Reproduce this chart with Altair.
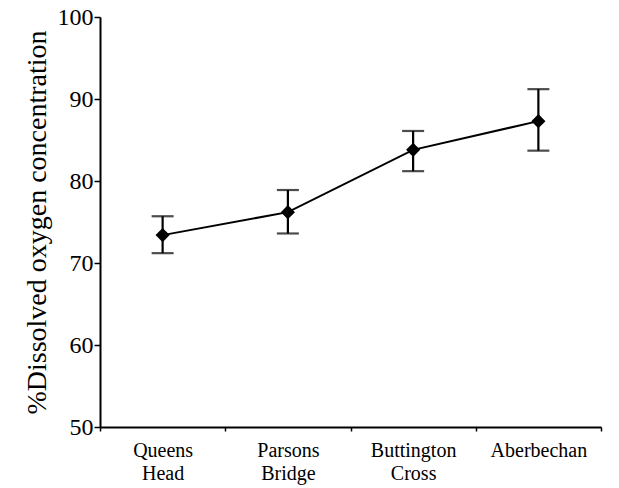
import altair as alt
import pandas as pd

sites = ["Queens Head", "Parsons Bridge", "Buttington Cross", "Aberbechan"]
means = [73.4, 76.2, 83.8, 87.3]
lows = [71.2, 73.6, 81.2, 83.7]
highs = [75.7, 78.9, 86.1, 91.2]

df = pd.DataFrame({"site": sites, "mean": means, "lo": lows, "hi": highs})

FONT = "Liberation Serif"

x = alt.X(
    "site:N",
    sort=sites,
    scale=alt.Scale(paddingInner=0, paddingOuter=0),
    axis=alt.Axis(
        title=None,
        labelAngle=0,
        labelFont=FONT,
        labelFontSize=20,
        labelColor="black",
        labelExpr="split(datum.label, ' ')",
        labelLineHeight=23,
        labelPadding=9,
        labelBaseline="top",
        tickBand="extent",
        tickSize=4,
        tickColor="black",
        tickWidth=1.5,
        domainColor="black",
        domainWidth=2,
    ),
)

y_axis = alt.Axis(
    title="%Dissolved oxygen concentration",
    titleFont=FONT,
    titleFontSize=28,
    titleFontWeight="normal",
    titleColor="black",
    titlePadding=6,
    values=[50, 60, 70, 80, 90, 100],
    labelFont=FONT,
    labelFontSize=24,
    labelColor="black",
    labelPadding=1,
    tickSize=6,
    tickColor="black",
    tickWidth=1.5,
    domainColor="black",
    domainWidth=2,
    grid=False,
)

base = alt.Chart(df)

line = base.mark_line(color="black", strokeWidth=2).encode(
    x=x,
    y=alt.Y("mean:Q", scale=alt.Scale(domain=[50, 100], nice=False, zero=False), axis=y_axis),
)

err = base.mark_rule(color="black", strokeWidth=2.2).encode(
    x=alt.X("site:N", sort=sites),
    y="lo:Q",
    y2="hi:Q",
)

cap_lo = base.mark_tick(color="black", thickness=2.2, size=22, orient="horizontal").encode(
    x=alt.X("site:N", sort=sites),
    y="lo:Q",
)
cap_hi = base.mark_tick(color="black", thickness=2.2, size=22, orient="horizontal").encode(
    x=alt.X("site:N", sort=sites),
    y="hi:Q",
)

pts = base.mark_point(shape="diamond", filled=True, color="black", size=200, opacity=1).encode(
    x=alt.X("site:N", sort=sites),
    y="mean:Q",
)

chart = (
    alt.layer(line, err, cap_lo, cap_hi, pts)
    .properties(
        width=501,
        height=410,
        autosize=alt.AutoSizeParams(type="none"),
        padding={"left": 100, "top": 17, "right": 18, "bottom": 61},
        background="white",
    )
    .configure_view(stroke=None)
)

chart.save("out.html", embed_options={"renderer": "svg", "actions": False})
